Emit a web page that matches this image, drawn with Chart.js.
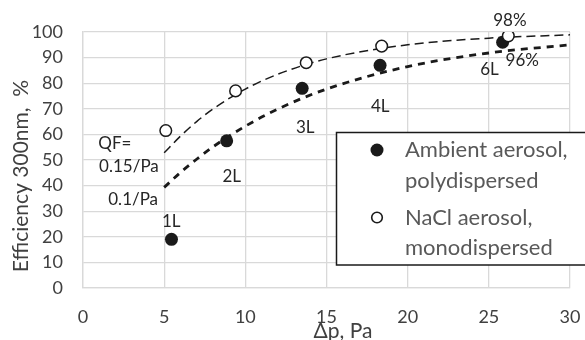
<!DOCTYPE html>
<html>
<head>
<meta charset="utf-8">
<script src="https://cdn.jsdelivr.net/npm/chart.js@4/dist/chart.umd.min.js"></script>
<style>
  html, body { margin: 0; padding: 0; background: #ffffff; }
  #wrap { width: 585px; height: 340px; }
</style>
</head>
<body>
<div id="wrap"><canvas id="c" width="585" height="340"></canvas></div>
<script>
// Ambient aerosol, polydispersed: pressure drop (Pa) and efficiency (%)
const ambientDp     = [5.45, 8.85, 13.5, 18.3, 25.85];
const ambientEff    = [19, 57.5, 78, 87, 96];
const ambientLayers = ['1L', '2L', '3L', '4L', '6L'];

// NaCl aerosol, monodispersed
const naclDp  = [5.1, 9.4, 13.75, 18.4, 26.2];
const naclEff = [61.5, 77, 88, 94.5, 98.5];

// Constant quality-factor curves
const curveDp   = [5, 6, 7, 8, 10, 12, 15, 20, 25, 30];
const curveQF15 = [52.8, 59.3, 65.0, 69.9, 77.7, 83.5, 89.5, 95.0, 97.6, 98.9];
const curveQF10 = [39.3, 45.1, 50.3, 55.1, 63.2, 69.9, 77.7, 86.5, 91.8, 95.0];

// Axis ticks
const xTickValues = [0, 5, 10, 15, 20, 25, 30];
const yTickValues = [0, 10, 20, 30, 40, 50, 60, 70, 80, 90, 100];

// Text notes placed in data coordinates
const noteText = ['QF=', '0.15/Pa', '0.1/Pa', '98%', '96%'];
const noteX    = [1.96, 2.83, 3.09, 26.3, 27.06];
const noteY    = [56.6, 47.5, 34.5, 104.5, 88.8];
const layerX   = [5.44, 9.16, 13.69, 18.31, 25.04];
const layerY   = [26.0, 43.6, 62.5, 70.9, 85.5];

const FONT = 'Lato, "Open Sans", sans-serif';
const INK = '#1a1a1a';

const pts = (xs, ys) => xs.map((x, i) => ({ x, y: ys[i] }));

const overlay = {
  id: 'overlay',
  afterDraw(chart) {
    const { ctx, scales: { x, y } } = chart;
    ctx.save();

    // in-plot notes
    ctx.fillStyle = '#262626';
    ctx.font = '17px ' + FONT;
    ctx.textAlign = 'center';
    ctx.textBaseline = 'middle';
    noteText.forEach((t, i) => ctx.fillText(t, x.getPixelForValue(noteX[i]), y.getPixelForValue(noteY[i])));
    ambientLayers.forEach((t, i) => ctx.fillText(t, x.getPixelForValue(layerX[i]), y.getPixelForValue(layerY[i])));

    // axis titles
    ctx.fillStyle = '#404040';
    ctx.font = '21px ' + FONT;
    ctx.fillText('\u0394p, Pa', 343, 331);
    ctx.save();
    ctx.translate(21.5, 176);
    ctx.rotate(-Math.PI / 2);
    ctx.fillText('Efficiency 300nm,  %', 0, 0);
    ctx.restore();

    // legend box
    const bx = 336.5, by = 132.5, bw = 270, bh = 132.5;
    ctx.fillStyle = '#ffffff';
    ctx.fillRect(bx, by, bw, bh);
    ctx.strokeStyle = '#1a1a1a';
    ctx.lineWidth = 1.5;
    ctx.strokeRect(bx, by, bw, bh);

    const amb = chart.data.datasets[0];
    const nacl = chart.data.datasets[1];
    ctx.beginPath();
    ctx.arc(377, 150, 6.5, 0, Math.PI * 2);
    ctx.fillStyle = amb.pointBackgroundColor;
    ctx.fill();
    ctx.beginPath();
    ctx.arc(377, 217.5, 5.3, 0, Math.PI * 2);
    ctx.fillStyle = nacl.pointBackgroundColor;
    ctx.fill();
    ctx.lineWidth = 1.6;
    ctx.strokeStyle = nacl.pointBorderColor;
    ctx.stroke();

    ctx.fillStyle = '#595959';
    ctx.font = '22px ' + FONT;
    ctx.textAlign = 'left';
    ctx.fillText('Ambient aerosol,', 405, 150);
    ctx.fillText('polydispersed', 405, 181);
    ctx.fillText('NaCl aerosol,', 405, 217.5);
    ctx.fillText('monodispersed', 405, 248);
    ctx.restore();
  }
};

new Chart(document.getElementById('c'), {
  type: 'scatter',
  data: {
    datasets: [
      {
        label: 'Ambient aerosol, polydispersed',
        data: pts(ambientDp, ambientEff),
        pointRadius: 6.5,
        pointBackgroundColor: INK,
        pointBorderColor: INK,
        pointBorderWidth: 0,
        order: 1
      },
      {
        label: 'NaCl aerosol, monodispersed',
        data: pts(naclDp, naclEff),
        pointRadius: 5.8,
        pointBackgroundColor: '#ffffff',
        pointBorderColor: INK,
        pointBorderWidth: 1.5,
        order: 0
      },
      {
        label: 'QF = 0.15/Pa',
        type: 'line',
        data: pts(curveDp, curveQF15),
        borderColor: INK,
        borderWidth: 1.5,
        borderDash: [9, 5],
        pointRadius: 0,
        fill: false,
        cubicInterpolationMode: 'monotone',
        order: 3
      },
      {
        label: 'QF = 0.1/Pa',
        type: 'line',
        data: pts(curveDp, curveQF10),
        borderColor: INK,
        borderWidth: 2.8,
        borderDash: [7, 6],
        pointRadius: 0,
        fill: false,
        cubicInterpolationMode: 'monotone',
        order: 2
      }
    ]
  },
  options: {
    responsive: false,
    animation: false,
    devicePixelRatio: 1,
    layout: { padding: { left: 0, right: 15, top: 32, bottom: 0 } },
    plugins: { legend: { display: false }, tooltip: { enabled: false } },
    scales: {
      x: {
        type: 'linear',
        min: 0, max: 30,
        afterBuildTicks(s) { s.ticks = xTickValues.map(v => ({ value: v })); },
        ticks: { padding: 18, color: '#404040', font: { family: FONT, size: 18 } },
        grid: { color: '#d9d9d9', lineWidth: 1.3, drawTicks: false },
        border: { color: '#d9d9d9', width: 1.3 },
        afterFit(s) { s.height = 52; s.paddingLeft = 0; s.paddingRight = 0; }
      },
      y: {
        type: 'linear',
        min: 0, max: 100,
        ticks: {
          stepSize: 5,
          padding: 20,
          color: '#404040',
          font: { family: FONT, size: 18 },
          callback: v => (yTickValues.includes(v) ? String(v) : '')
        },
        grid: {
          color: c => (yTickValues.includes(c.tick.value) ? '#d9d9d9' : '#e6e6e6'),
          lineWidth: 1.3,
          drawTicks: false
        },
        border: { color: '#d9d9d9', width: 1.3 },
        afterFit(s) { s.width = 83; s.paddingTop = 0; s.paddingBottom = 0; }
      }
    }
  },
  plugins: [overlay]
});
</script>
</body>
</html>
